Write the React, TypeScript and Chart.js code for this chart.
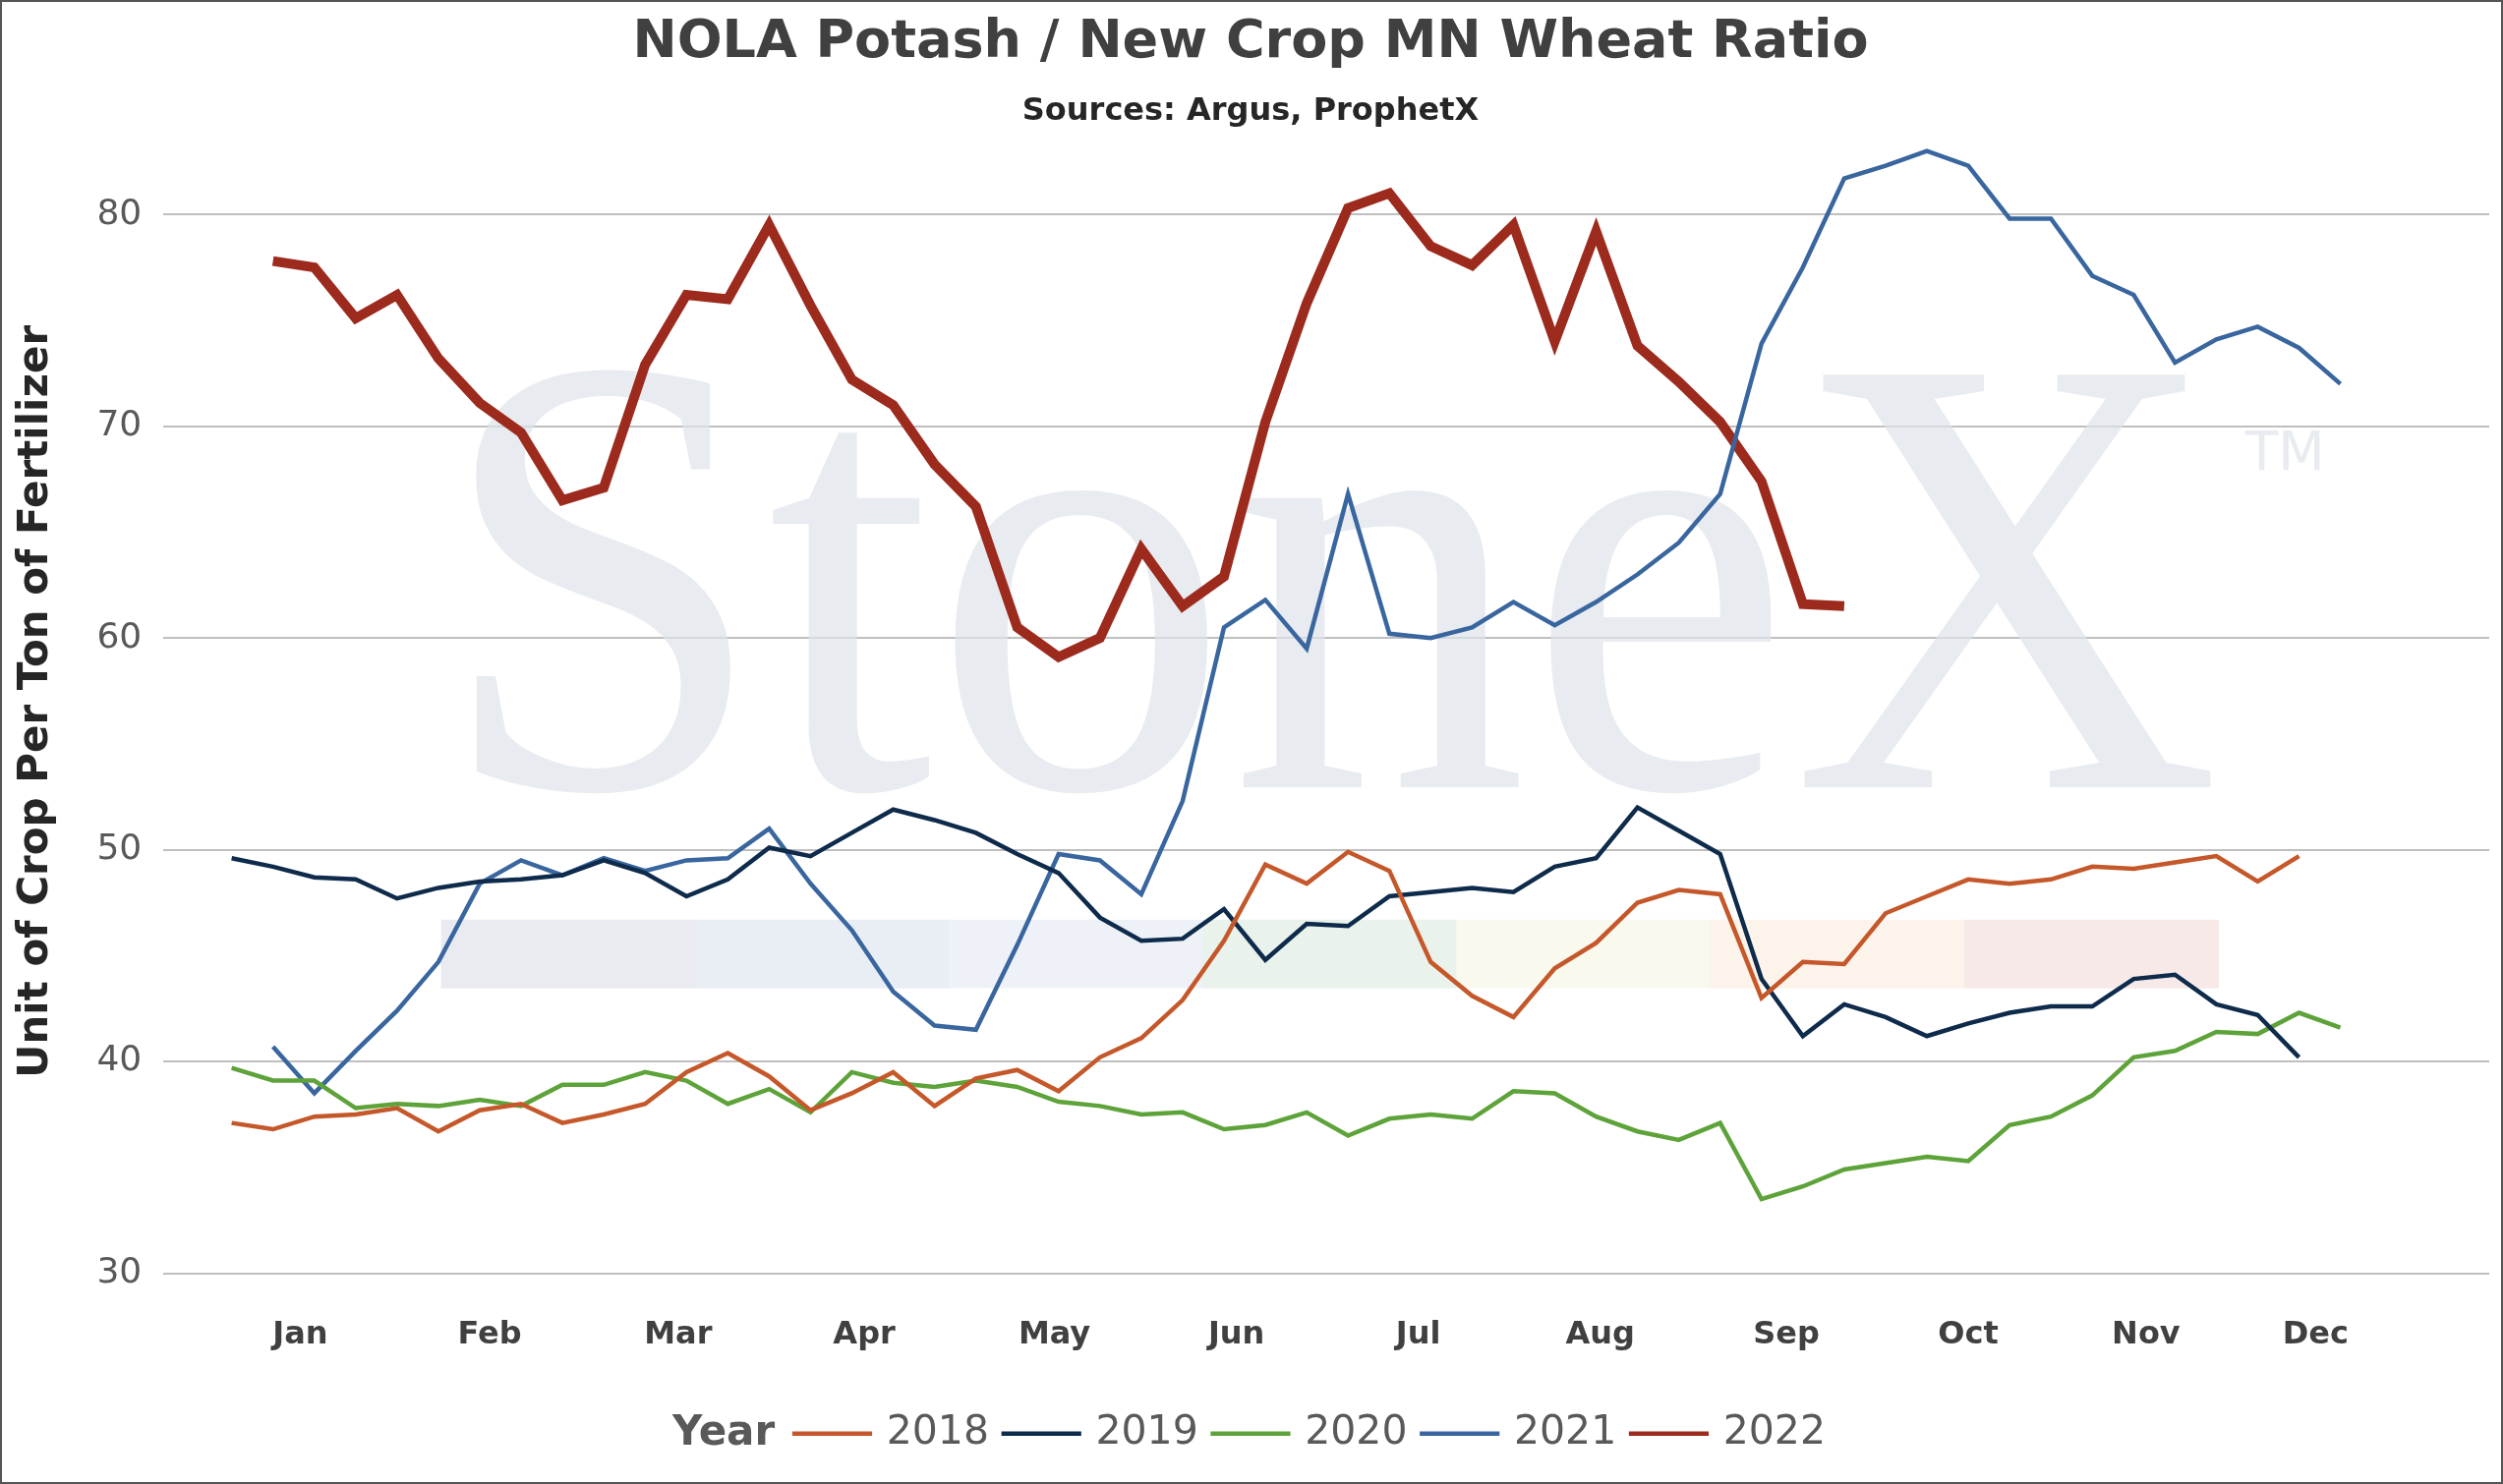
import React, { useEffect, useRef } from "react";
import { Chart, registerables } from "chart.js";
Chart.register(...registerables);

const monthLabels = ["Jan","Feb","Mar","Apr","May","Jun","Jul","Aug","Sep","Oct","Nov","Dec"];
const monthPos = [1.66,6.24,10.8,15.3,19.9,24.3,28.7,33.1,37.6,42.0,46.3,50.4];

const y2018 = [37.1,36.8,37.4,37.5,37.8,36.7,37.7,38.0,37.1,37.5,38.0,39.5,40.4,39.3,37.7,38.5,39.5,37.9,39.2,39.6,38.6,40.2,41.1,42.9,45.7,49.3,48.4,49.9,49.0,44.7,43.1,42.1,44.4,45.6,47.5,48.1,47.9,43.0,44.7,44.6,47.0,47.8,48.6,48.4,48.6,49.2,49.1,49.4,49.7,48.5,49.7];
const y2019 = [49.6,49.2,48.7,48.6,47.7,48.2,48.5,48.6,48.8,49.5,48.9,47.8,48.6,50.1,49.7,50.8,51.9,51.4,50.8,49.8,48.9,46.8,45.7,45.8,47.2,44.8,46.5,46.4,47.8,48.0,48.2,48.0,49.2,49.6,52.0,50.9,49.8,43.9,41.2,42.7,42.1,41.2,41.8,42.3,42.6,42.6,43.9,44.1,42.7,42.2,40.2];
const y2020 = [39.7,39.1,39.1,37.8,38.0,37.9,38.2,37.9,38.9,38.9,39.5,39.1,38.0,38.7,37.6,39.5,39.0,38.8,39.1,38.8,38.1,37.9,37.5,37.6,36.8,37.0,37.6,36.5,37.3,37.5,37.3,38.6,38.5,37.4,36.7,36.3,37.1,33.5,34.1,34.9,35.2,35.5,35.3,37.0,37.4,38.4,40.2,40.5,41.4,41.3,42.3,41.6];
const y2021 = [40.7,38.5,40.5,42.4,44.7,48.4,49.5,48.8,49.6,49.0,49.5,49.6,51.0,48.4,46.2,43.3,41.7,41.5,45.5,49.8,49.5,47.9,52.3,60.5,61.8,59.5,66.8,60.2,60.0,60.5,61.7,60.6,61.7,63.0,64.5,66.8,73.9,77.5,81.7,82.3,83.0,82.3,79.8,79.8,77.1,76.2,73.0,74.1,74.7,73.7,72.0];
const y2022 = [77.8,77.5,75.1,76.2,73.2,71.1,69.7,66.5,67.1,72.9,76.2,76.0,79.5,75.7,72.2,71.0,68.2,66.2,60.5,59.1,60.0,64.2,61.5,62.9,70.2,75.8,80.3,81.0,78.5,77.6,79.5,74.0,79.2,73.8,72.1,70.2,67.4,61.6,61.5];

const series = [
  { label: "2018", data: y2018, start: 0, color: "#c5582a", width: 4.5 },
  { label: "2019", data: y2019, start: 0, color: "#0e2b4b", width: 4.5 },
  { label: "2020", data: y2020, start: 0, color: "#5ea33a", width: 4.5 },
  { label: "2021", data: y2021, start: 1, color: "#3a669f", width: 4.5 },
  { label: "2022", data: y2022, start: 1, color: "#9c2b1e", width: 10 },
];

const FONT = "'DejaVu Sans', Verdana, sans-serif";

const bgPlugin = {
  id: "bg",
  beforeDatasetsDraw(chart: any) {
    const ctx = chart.ctx;
    ctx.save();
    const k = 1.624;
    const strip = ["#e9ebf0","#e9edf4","#eef2f8","#eaf2ec","#f9f9ee","#fcf3ea","#f8e9e9"];
    const x0 = 275 * k, x1 = 1388 * k, w = (x1 - x0) / strip.length;
    strip.forEach((c, i) => { ctx.fillStyle = c; ctx.fillRect(x0 + i * w, 575 * k, w + 1, 43 * k); });
    ctx.fillStyle = "rgba(222,226,234,0.7)";
    ctx.font = `${Math.round(395 * k)}px 'Liberation Serif', 'DejaVu Serif', serif`;
    ctx.textBaseline = "alphabetic";
    ctx.textAlign = "left";
    const txt = "StoneX";
    const tw = ctx.measureText(txt).width;
    ctx.save();
    ctx.translate(272 * k, 492 * k);
    ctx.scale((1390 - 272) * k / tw, 1);
    ctx.fillText(txt, 0, 0);
    ctx.restore();
    ctx.font = `${Math.round(34 * k)}px ${FONT}`;
    ctx.fillText("TM", 1405 * k, 293 * k);
    ctx.restore();
  },
  afterDraw(chart: any) {
    const ctx = chart.ctx;
    const k = 1.624;
    const y = 897 * k;
    ctx.save();
    ctx.textBaseline = "middle";
    ctx.textAlign = "left";
    ctx.fillStyle = "#595959";
    ctx.font = `bold ${Math.round(26 * k)}px ${FONT}`;
    ctx.fillText("Year", 420 * k, y);
    ctx.font = `${Math.round(25 * k)}px ${FONT}`;
    chart.data.datasets.forEach((d: any, i: number) => {
      const sx = (495 + i * 131) * k;
      ctx.strokeStyle = d.borderColor;
      ctx.lineWidth = 4.5;
      ctx.beginPath();
      ctx.moveTo(sx, y);
      ctx.lineTo(sx + 50 * k, y);
      ctx.stroke();
      ctx.fillStyle = "#595959";
      ctx.fillText(d.label, sx + 59 * k, y);
    });
    ctx.restore();
  },
};

export default function App() {
  const ref = useRef<HTMLCanvasElement>(null);
  useEffect(() => {
    const chart = new Chart(ref.current!, {
      type: "line",
      data: {
        datasets: series.map((s) => ({
          label: s.label,
          data: s.data.map((v, i) => ({ x: i + s.start, y: v })),
          borderColor: s.color,
          backgroundColor: s.color,
          borderWidth: s.width,
          pointRadius: 0,
          tension: 0,
          fill: false,
        })),
      },
      options: {
        animation: false,
        responsive: false,
        layout: { padding: { top: 0, left: 10, right: 12, bottom: 94 } },
        plugins: {
          legend: { display: false },
          tooltip: { enabled: false },
          title: {
            display: true,
            text: "NOLA Potash / New Crop MN Wheat Ratio",
            color: "#404040",
            font: { family: FONT, size: 54, weight: "bold", lineHeight: 1 },
            padding: { top: 15, bottom: 27 },
          },
          subtitle: {
            display: true,
            text: "Sources: Argus, ProphetX",
            color: "#262626",
            font: { family: FONT, size: 32, weight: "bold", lineHeight: 1 },
            padding: { top: 0, bottom: 2 },
          },
        },
        scales: {
          x: {
            type: "linear",
            min: -1.65,
            max: 54.6,
            afterBuildTicks: (axis: any) => { axis.ticks = monthPos.map((v) => ({ value: v })); },
            ticks: {
              autoSkip: false,
              maxRotation: 0,
              padding: 36,
              color: "#404040",
              font: { family: FONT, size: 32, weight: "bold" },
              callback: (v: any) => { const i = monthPos.indexOf(Number(v)); return i >= 0 ? monthLabels[i] : ""; },
            },
            grid: { display: false },
            border: { display: false },
          },
          y: {
            min: 30,
            max: 84,
            afterBuildTicks: (axis: any) => { axis.ticks = [30,40,50,60,70,80].map((v) => ({ value: v })); },
            ticks: { color: "#595959", padding: 22, font: { family: FONT, size: 36 } },
            grid: { color: "#bfbfbf", lineWidth: 2, drawTicks: false },
            border: { display: false },
            title: {
              display: true,
              text: "Unit of Crop Per Ton of Fertilizer",
              color: "#262626",
              font: { family: FONT, size: 42, weight: "bold" },
              padding: { top: 0, bottom: 14 },
            },
          },
        },
      },
      plugins: [bgPlugin],
    } as any);
    return () => chart.destroy();
  }, []);
  return (
    <div style={{ position: "absolute", left: 0, top: 0, width: 2546, height: 1510, background: "#fff", boxSizing: "border-box", border: "2px solid #555" }}>
      <canvas ref={ref} width={2542} height={1506} style={{ width: 2542, height: 1506, display: "block" }} />
    </div>
  );
}
